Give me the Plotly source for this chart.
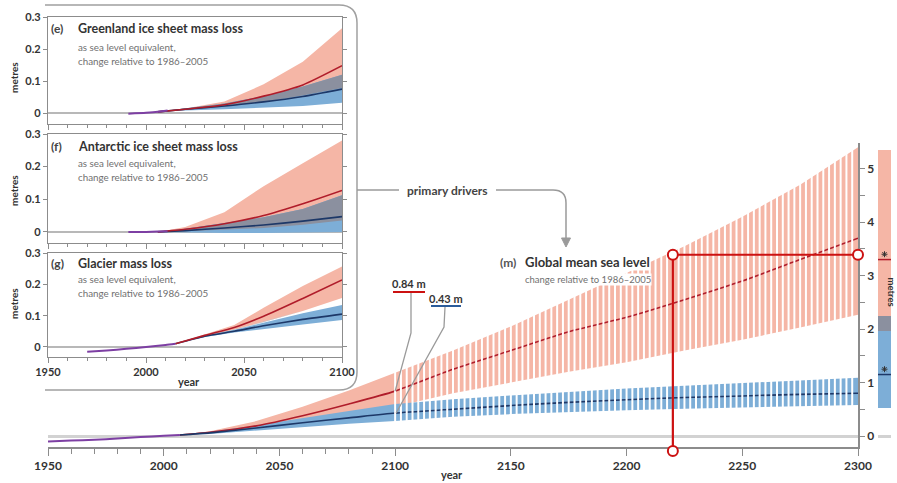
import plotly.graph_objects as go

W, H = 897, 483

# ---------------- data ----------------
# (m) Global mean sea level, change relative to 1986-2005 (metres)
hist_years = [1950, 1960, 1970, 1980, 1990, 2000, 2007]
hist_gmsl = [-0.10, -0.085, -0.07, -0.045, -0.02, 0.005, 0.02]

proj_years = [2007, 2020, 2040, 2060, 2080, 2100, 2125, 2150, 2175, 2200, 2225, 2250, 2275, 2300]
rcp85_med = [0.02, 0.07, 0.19, 0.38, 0.60, 0.84, 1.25, 1.60, 1.95, 2.22, 2.55, 2.90, 3.30, 3.70]
rcp85_hi = [0.02, 0.09, 0.28, 0.55, 0.85, 1.18, 1.60, 2.05, 2.55, 3.05, 3.55, 4.10, 4.70, 5.40]
rcp85_lo = [0.02, 0.05, 0.14, 0.26, 0.40, 0.55, 0.80, 1.00, 1.20, 1.38, 1.60, 1.80, 2.03, 2.27]
rcp26_med = [0.02, 0.06, 0.15, 0.25, 0.34, 0.43, 0.50, 0.57, 0.63, 0.68, 0.72, 0.75, 0.78, 0.80]
rcp26_hi = [0.02, 0.08, 0.20, 0.34, 0.47, 0.60, 0.69, 0.76, 0.83, 0.89, 0.94, 0.99, 1.04, 1.09]
rcp26_lo = [0.02, 0.04, 0.10, 0.17, 0.23, 0.28, 0.36, 0.41, 0.45, 0.48, 0.51, 0.54, 0.56, 0.58]

# ranges in 2300 (side bar)
bar_high = [1.96, 5.35]
bar_high_med = 3.30
bar_low = [0.53, 2.24]
bar_low_med = 1.15

highlight_year = 2220
highlight_level = 3.39
highlight_floor = -0.28

label_85 = "0.84 m"
label_26 = "0.43 m"

# (e) Greenland ice sheet mass loss
gis_hist_years = [1991, 2000, 2006, 2011]
gis_hist = [-0.002, 0.001, 0.004, 0.008]
gis_years = [2006, 2020, 2040, 2060, 2080, 2100]
gis85_med = [0.004, 0.012, 0.026, 0.053, 0.088, 0.148]
gis85_hi = [0.004, 0.014, 0.036, 0.090, 0.160, 0.265]
gis85_lo = [0.004, 0.010, 0.020, 0.035, 0.055, 0.078]
gis26_med = [0.004, 0.012, 0.022, 0.035, 0.052, 0.075]
gis26_hi = [0.004, 0.014, 0.030, 0.053, 0.083, 0.120]
gis26_lo = [0.004, 0.008, 0.012, 0.016, 0.022, 0.032]

# (f) Antarctic ice sheet mass loss
ais_hist_years = [1991, 2000, 2006, 2011]
ais_hist = [0.0, 0.0, 0.001, 0.002]
ais_years = [2006, 2020, 2040, 2060, 2080, 2100]
ais85_med = [0.0, 0.008, 0.025, 0.050, 0.086, 0.127]
ais85_hi = [0.0, 0.015, 0.060, 0.140, 0.210, 0.280]
ais85_lo = [0.0, 0.002, 0.006, 0.012, 0.022, 0.035]
ais26_med = [0.0, 0.004, 0.012, 0.021, 0.033, 0.047]
ais26_hi = [0.0, 0.010, 0.027, 0.045, 0.070, 0.112]
ais26_lo = [0.0, -0.002, -0.003, -0.003, -0.002, 0.000]

# (g) Glacier mass loss
glac_hist_years = [1970, 1980, 1990, 2000, 2010, 2015]
glac_hist = [-0.015, -0.011, -0.006, 0.0, 0.006, 0.010]
glac_years = [2015, 2030, 2045, 2060, 2080, 2100]
glac85_med = [0.010, 0.037, 0.062, 0.098, 0.155, 0.214]
glac85_hi = [0.010, 0.040, 0.070, 0.125, 0.195, 0.257]
glac85_lo = [0.010, 0.034, 0.055, 0.080, 0.115, 0.156]
glac26_med = [0.010, 0.034, 0.050, 0.068, 0.088, 0.105]
glac26_hi = [0.010, 0.036, 0.055, 0.078, 0.108, 0.134]
glac26_lo = [0.010, 0.032, 0.046, 0.058, 0.072, 0.086]

main_ticks = [1950, 2000, 2050, 2100, 2150, 2200, 2250, 2300]
main_minor = [y for y in range(1960, 2100, 10) if y % 50]
panel_ticks = [1950, 2000, 2050, 2100]
panel_minor = [y for y in range(1960, 2100, 10) if y % 50]

# ---------------- style ----------------
RED_BAND = '#f5b6a6'
BLUE_BAND = '#7daed7'
OVERLAP = '#8b909f'
RED_LINE = '#b01c2a'
BLUE_LINE = '#1d3868'
PURPLE = '#7d3fa3'
AXIS = '#8c8c8c'
TXT = '#333333'
SUB = '#707070'
FONT = 'Lato, Open Sans, sans-serif'
HL = '#cc1111'


def px(x):
    return x / W


def py(y):
    return 1 - y / H


fig = go.Figure()


def band(x, lo, hi, color, xa, ya):
    fig.add_trace(go.Scatter(x=list(x) + list(x)[::-1], y=list(hi) + list(lo)[::-1],
                             fill='toself', fillcolor=color, line=dict(width=0),
                             mode='lines', hoverinfo='skip', showlegend=False,
                             xaxis=xa, yaxis=ya))


def line(x, y, color, width, xa, ya, shape='spline'):
    fig.add_trace(go.Scatter(x=x, y=y, mode='lines', line=dict(color=color, width=width, shape=shape, smoothing=0.6),
                             hoverinfo='skip', showlegend=False, xaxis=xa, yaxis=ya))


# ---------------- main panel ----------------
band(proj_years, rcp85_lo, rcp85_hi, RED_BAND, 'x', 'y')
band(proj_years, rcp26_lo, rcp26_hi, BLUE_BAND, 'x', 'y')
line(proj_years, rcp85_med, RED_LINE, 1.6, 'x', 'y')
line(proj_years, rcp26_med, BLUE_LINE, 1.6, 'x', 'y')
line(hist_years, hist_gmsl, PURPLE, 2, 'x', 'y')

# white gaps producing the striped look after 2100
sx, sy = [], []
for k in range(80):
    xv = 2100 + 2.5 * k
    sx += [xv, xv, None]
    sy += [0.2, 5.6, None]
fig.add_trace(go.Scatter(x=sx, y=sy, mode='lines', line=dict(color='white', width=2),
                         hoverinfo='skip', showlegend=False, xaxis='x', yaxis='y'))

# side bar (2300 ranges)
fig.add_trace(go.Bar(x=[0.5], y=[bar_high[1] - bar_high[0]], base=[bar_high[0]], width=1,
                     marker=dict(color=RED_BAND, line=dict(width=0)), xaxis='x5', yaxis='y',
                     showlegend=False, hoverinfo='skip'))
fig.add_trace(go.Bar(x=[0.5], y=[bar_low[1] - bar_low[0]], base=[bar_low[0]], width=1,
                     marker=dict(color=BLUE_BAND, line=dict(width=0)), xaxis='x5', yaxis='y',
                     showlegend=False, hoverinfo='skip'))
fig.add_trace(go.Bar(x=[0.5], y=[bar_low[1] - bar_high[0]], base=[bar_high[0]], width=1,
                     marker=dict(color=OVERLAP, line=dict(width=0)), xaxis='x5', yaxis='y',
                     showlegend=False, hoverinfo='skip'))
for med, col in [(bar_high_med, RED_LINE), (bar_low_med, BLUE_LINE)]:
    fig.add_trace(go.Scatter(x=[0, 1], y=[med, med], mode='lines', line=dict(color=col, width=1.5),
                             xaxis='x5', yaxis='y', showlegend=False, hoverinfo='skip'))
    fig.add_trace(go.Scatter(x=[0.5], y=[med + 0.1], mode='markers',
                             marker=dict(symbol='asterisk-open', size=5, color='#333',
                                         line=dict(color='#333', width=1)),
                             xaxis='x5', yaxis='y', showlegend=False, hoverinfo='skip', cliponaxis=False))

# highlight line
fig.add_trace(go.Scatter(x=[highlight_year, highlight_year, 2300],
                         y=[highlight_floor, highlight_level, highlight_level],
                         mode='lines', line=dict(color=HL, width=2.2),
                         hoverinfo='skip', showlegend=False, xaxis='x', yaxis='y'))

# ---------------- inset panels ----------------
panels = [
    ('2', gis_hist_years, gis_hist, gis_years, gis85_med, gis85_lo, gis85_hi, gis26_med, gis26_lo, gis26_hi),
    ('3', ais_hist_years, ais_hist, ais_years, ais85_med, ais85_lo, ais85_hi, ais26_med, ais26_lo, ais26_hi),
    ('4', glac_hist_years, glac_hist, glac_years, glac85_med, glac85_lo, glac85_hi, glac26_med, glac26_lo, glac26_hi),
]
for (k, hy, hv, yrs, m85, l85, h85, m26, l26, h26) in panels:
    xa, ya = 'x' + k, 'y' + k
    band(yrs, l85, h85, RED_BAND, xa, ya)
    band(yrs, l26, h26, BLUE_BAND, xa, ya)
    olo = [max(a, b) for a, b in zip(l85, l26)]
    ohi = [max(min(a, b), lo) for a, b, lo in zip(h85, h26, olo)]
    band(yrs, olo, ohi, OVERLAP, xa, ya)
    line(yrs, m26, BLUE_LINE, 1.6, xa, ya)
    line(yrs, m85, RED_LINE, 1.6, xa, ya)
    line(hy, hv, PURPLE, 2, xa, ya)

# ---------------- layout ----------------
tickfont = dict(family=FONT, size=12, color=TXT, weight='bold')
ptickfont = dict(family=FONT, size=11, color=TXT, weight='bold')

layout = dict(
    width=W, height=H, margin=dict(l=0, r=0, t=0, b=0, autoexpand=False),
    paper_bgcolor='white', plot_bgcolor='rgba(0,0,0,0)', showlegend=False,
    barmode='overlay', bargap=0,
    xaxis=dict(domain=[px(48), px(858)], range=[1950, 2300], anchor='y', automargin=False,
               showline=True, linecolor=AXIS, linewidth=1.5, showgrid=False, zeroline=False,
               tickmode='array', tickvals=main_ticks, ticks='outside', ticklen=7, tickwidth=1.2,
               tickcolor=AXIS, tickfont=tickfont,
               minor=dict(tickmode='array', tickvals=main_minor, ticks='outside', ticklen=5,
                          tickcolor=AXIS, tickwidth=1.2, showgrid=False)),
    yaxis=dict(domain=[py(447), py(143)], range=[-0.205, 5.48], anchor='x', side='right', automargin=False,
               showline=True, linecolor=AXIS, linewidth=1.5, showgrid=False,
               zeroline=True, zerolinecolor='#d2d2d2', zerolinewidth=2.5,
               tickmode='array', tickvals=[0, 1, 2, 3, 4, 5], ticks='outside', ticklen=5,
               tickwidth=1.2, tickcolor=AXIS, tickfont=tickfont,
               minor=dict(tickmode='array', tickvals=[0.5, 1.5, 2.5, 3.5, 4.5], ticks='outside',
                          ticklen=5, tickcolor=AXIS, tickwidth=1.2, showgrid=False)),
    xaxis5=dict(domain=[px(878), px(891)], range=[0, 1], anchor='y', visible=False, fixedrange=True,
                automargin=False),
)

panel_boxes = {'2': (17, 124, [-0.034, 0.3]), '3': (134, 243, [-0.034, 0.3]), '4': (253, 357, [-0.032, 0.3])}
for k, (top, bot, yr) in panel_boxes.items():
    layout['xaxis' + k] = dict(domain=[px(48), px(342)], range=[1950, 2100], anchor='y' + k, automargin=False,
                               showline=True, linecolor=AXIS, linewidth=1.2, mirror=True,
                               showgrid=False, zeroline=False, tickmode='array', tickvals=panel_ticks,
                               ticks='outside', ticklen=5, tickwidth=1, tickcolor=AXIS,
                               showticklabels=(k == '4'), tickfont=ptickfont,
                               minor=dict(tickmode='array', tickvals=panel_minor, ticks='outside',
                                          ticklen=3, tickcolor=AXIS, tickwidth=1))
    layout['yaxis' + k] = dict(domain=[py(bot), py(top)], range=yr, anchor='x' + k, automargin=False,
                               showline=True, linecolor=AXIS, linewidth=1.2, mirror='ticks',
                               showgrid=False, zeroline=True, zerolinecolor='#b8b8b8', zerolinewidth=1.5,
                               tickmode='array', tickvals=[0, 0.1, 0.2, 0.3], ticktext=['0', '0.1', '0.2', '0.3'],
                               ticks='outside', ticklen=4, tickwidth=1, tickcolor=AXIS, tickfont=ptickfont)

fig.update_layout(**layout)


# ---------------- annotations ----------------
def ann(text, x, y, size=11, color=TXT, xanchor='left', yanchor='middle', bold=False, angle=0, bg=None):
    fig.add_annotation(text=text, x=px(x), y=py(y), xref='paper', yref='paper', showarrow=False,
                       xanchor=xanchor, yanchor=yanchor, textangle=angle,
                       font=dict(family=FONT, size=size, color=color, weight='bold' if bold else 'normal'),
                       bgcolor=bg, borderpad=0)


titles = [
    ('(e)', 'Greenland ice sheet mass loss', 29, 47, 61, 78),
    ('(f)', 'Antarctic ice sheet mass loss', 146, 163, 177, 191),
    ('(g)', 'Glacier mass loss', 263, 279, 293, 304),
]
for lab, title, yt, ys1, ys2, ym in titles:
    ann(lab, 50, yt, size=12, color='#444', bold=True)
    ann(title, 77, yt, size=12.5, color=TXT, bold=True)
    ann('as sea level equivalent,', 77, ys1, size=9.8, color=SUB)
    ann('change relative to 1986–2005', 77, ys2, size=9.8, color=SUB)
    ann('metres', 14, ym, size=10, color=TXT, xanchor='center', bold=True, angle=-90)

ann('year', 189, 381, size=11, color=TXT, xanchor='center', bold=True)
ann('year', 452, 482, size=11, color=TXT, xanchor='center', yanchor='bottom', bold=True)
ann('metres', 891.5, 292, size=9.5, color=TXT, xanchor='center', bold=True, angle=90)

ann('primary drivers', 447, 190, size=12, color='#444', xanchor='center', bold=True)
ann('(m)', 499, 262, size=12, color='#555', bold=True, bg='white')
ann('Global mean sea level', 524, 262, size=13, color=TXT, bold=True, bg='white')
ann('change relative to 1986–2005', 524, 279, size=9.5, color=SUB, bg='white')
ann(label_85, 409, 283, size=11, color=TXT, xanchor='center', bold=True)
ann(label_26, 446, 298, size=11, color=TXT, xanchor='center', bold=True)


def P(x, y):
    return f"{px(x):.5f},{py(y):.5f}"


# main-axis pixel mapping (from layout ranges)
def mx(year):
    return 48 + (year - 1950) * (858 - 48) / 350


def my(v):
    return 447 - (v + 0.205) * (447 - 143) / (5.48 + 0.205)


shapes = []
GREY = '#9a9a9a'
# inset frame
shapes.append(dict(type='path', xref='paper', yref='paper', layer='below',
                   path=f"M {P(45,5)} L {P(339,5)} Q {P(357,5)} {P(357,23)} L {P(357,372)} "
                        f"Q {P(357,390)} {P(339,390)} L {P(45,390)}",
                   line=dict(color='#a0a0a0', width=1.5)))
# primary drivers connector
shapes.append(dict(type='path', xref='paper', yref='paper',
                   path=f"M {P(357,190)} L {P(399,190)}", line=dict(color=GREY, width=1.5)))
shapes.append(dict(type='path', xref='paper', yref='paper',
                   path=f"M {P(496,190)} L {P(553,190)} Q {P(566,190)} {P(566,203)} L {P(566,239)}",
                   line=dict(color=GREY, width=1.5)))
shapes.append(dict(type='path', xref='paper', yref='paper',
                   path=f"M {P(561.5,238)} L {P(570.5,238)} L {P(566,247)} Z",
                   fillcolor=GREY, line=dict(color=GREY, width=1)))
# value call-outs
i2100 = proj_years.index(2100)
shapes.append(dict(type='line', xref='paper', yref='paper', x0=px(393), x1=px(425), y0=py(292), y1=py(292),
                   line=dict(color=HL, width=2)))
shapes.append(dict(type='line', xref='paper', yref='paper', x0=px(431), x1=px(461), y0=py(306), y1=py(306),
                   line=dict(color='#2a5b9a', width=2)))
shapes.append(dict(type='path', xref='paper', yref='paper',
                   path=f"M {P(411,293)} L {P(411,333)} L {P(mx(2100), my(rcp85_med[i2100]))}",
                   line=dict(color=GREY, width=1.3)))
shapes.append(dict(type='path', xref='paper', yref='paper',
                   path=f"M {P(445,307)} L {P(444,327)} L {P(mx(2100)+1, my(rcp26_med[i2100]))}",
                   line=dict(color=GREY, width=1.3)))
# highlight circles
for cx, cy in [(highlight_year, highlight_floor), (highlight_year, highlight_level), (2300, highlight_level)]:
    shapes.append(dict(type='circle', xref='paper', yref='paper',
                       xsizemode='pixel', ysizemode='pixel',
                       xanchor=px(mx(cx)), yanchor=py(my(cy)), x0=-5, x1=5, y0=-5, y1=5,
                       fillcolor='white', line=dict(color=HL, width=2)))
fig.update_layout(shapes=shapes)

fig.write_html("out.html", config={'displayModeBar': False},
               post_script="document.body.style.margin='0';document.body.style.overflow='hidden';")
